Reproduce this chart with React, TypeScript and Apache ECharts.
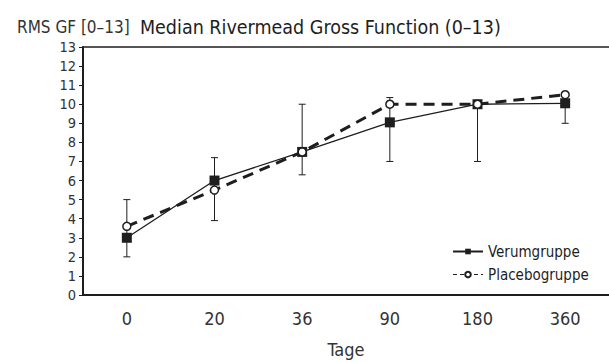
import React, { useEffect, useRef } from "react";
import * as echarts from "echarts";

const categories = ["0", "20", "36", "90", "180", "360"];
const verumValues = [3, 6, 7.5, 9.05, 10, 10.05];
const placeboValues = [3.6, 5.5, 7.5, 10, 10, 10.5];
const errorLow = [2, 3.9, 6.3, 7, 7, 9];
const errorHigh = [5, 7.2, 10, 10.35, 10, 10.05];
const yTicks = [0, 13, 1];

const FONT = "'Liberation Sans Narrow', 'DejaVu Sans Condensed', 'Noto Sans', sans-serif";
const INK = "#1e1e1e";

export default function App() {
  const ref = useRef<HTMLDivElement>(null);
  useEffect(() => {
    document.body.style.margin = "0";
    const chart = echarts.init(ref.current!, null, { renderer: "svg" });
    const errData = categories.map((_, i) => [i, errorLow[i], errorHigh[i]]);
    chart.setOption({
      animation: false,
      backgroundColor: "#fff",
      textStyle: { fontFamily: FONT },
      title: {
        left: 12,
        top: 12,
        text: "{a|RMS GF [0–13]}  {b|Median Rivermead Gross Function (0–13)}",
        textStyle: {
          fontWeight: "normal",
          rich: {
            a: { fontSize: 17, color: "#333", fontFamily: FONT, fontWeight: "normal" },
            b: { fontSize: 19.5, color: INK, fontFamily: FONT, fontWeight: "normal" },
          },
        },
      },
      legend: {
        orient: "vertical",
        left: 447,
        top: 239,
        itemWidth: 30,
        itemHeight: 7,
        itemGap: 8,
        textStyle: { fontSize: 15, color: INK, fontFamily: FONT },
        data: [
          { name: "Verumgruppe" },
          { name: "Placebogruppe", lineStyle: { width: 1.2, type: [4, 3] } },
        ],
      },
      grid: {
        left: 83,
        top: 47,
        right: -8,
        bottom: 55,
        show: false,
        containLabel: false,
      },
      xAxis: [
        {
          type: "category",
          data: categories,
          boundaryGap: true,
          axisLine: { lineStyle: { color: INK, width: 2 } },
          axisTick: { show: false },
          axisLabel: { fontSize: 18, color: "#333", margin: 14, fontFamily: FONT },
          name: "Tage",
          nameLocation: "middle",
          nameGap: 45,
          nameTextStyle: { fontSize: 18, color: "#333", fontFamily: FONT },
        },
        {
          type: "category",
          position: "top",
          data: categories,
          boundaryGap: true,
          axisLine: { show: true, lineStyle: { color: INK, width: 1.5 } },
          axisTick: { show: false },
          axisLabel: { show: false },
        },
      ],
      yAxis: {
        type: "value",
        min: yTicks[0],
        max: yTicks[1],
        interval: yTicks[2],
        splitLine: { show: false },
        axisLine: { show: true, lineStyle: { color: INK, width: 2 } },
        axisTick: { show: true, inside: false, length: 4, lineStyle: { color: INK } },
        axisLabel: { fontSize: 14.5, color: "#333", margin: 7, fontFamily: FONT },
      },
      series: [
        {
          type: "custom",
          name: "err",
          z: 1,
          data: errData,
          renderItem: (params: any, api: any) => {
            const x = api.value(0);
            const lo = api.coord([x, api.value(1)]);
            const hi = api.coord([x, api.value(2)]);
            const hw = 3.5;
            const st = { stroke: INK, lineWidth: 1 };
            return {
              type: "group",
              children: [
                { type: "line", shape: { x1: lo[0], y1: lo[1], x2: hi[0], y2: hi[1] }, style: st },
                { type: "line", shape: { x1: lo[0] - hw, y1: lo[1], x2: lo[0] + hw, y2: lo[1] }, style: st },
                { type: "line", shape: { x1: hi[0] - hw, y1: hi[1], x2: hi[0] + hw, y2: hi[1] }, style: st },
              ],
            };
          },
        },
        {
          type: "line",
          name: "Verumgruppe",
          z: 3,
          data: verumValues,
          symbol: "rect",
          symbolSize: 10,
          itemStyle: { color: INK },
          lineStyle: { color: INK, width: 1.3 },
        },
        {
          type: "line",
          name: "Placebogruppe",
          z: 4,
          data: placeboValues,
          symbol: "circle",
          symbolSize: 8,
          showAllSymbol: true,
          itemStyle: { color: "#fff", borderColor: INK, borderWidth: 1.5 },
          lineStyle: { color: INK, width: 3, type: [11, 7] },
        },
      ],
    });
    return () => chart.dispose();
  }, []);
  return (
    <div
      ref={ref}
      style={{ position: "fixed", left: 0, top: 0, width: 609, height: 363 }}
    />
  );
}
